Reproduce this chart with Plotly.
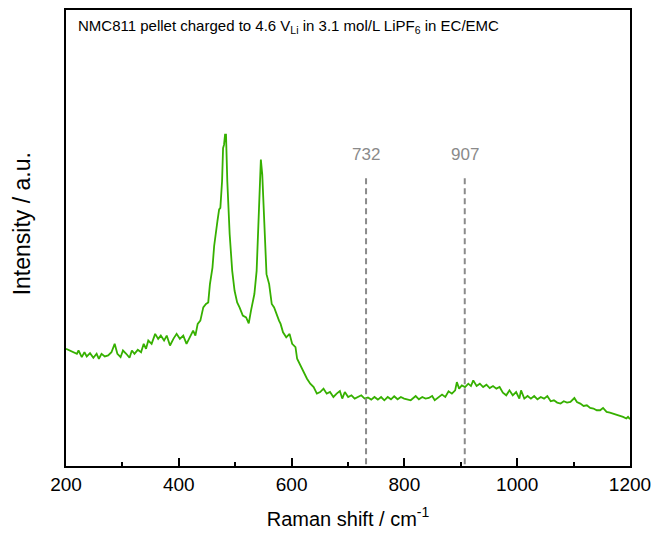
import plotly.graph_objects as go

# Raman shift (cm^-1)
shift = [200, 207.5, 213.5, 219.3, 222.2, 228, 232.7, 236.8, 242.6, 248.5, 254.3, 258.3, 263, 268.8,
         274.8, 280.6, 286.3, 291.1, 296.8, 301, 306.8, 312.6, 316.8, 321.4, 327.3, 333.1, 337.8,
         341.9, 345.9, 351.8, 358.1, 363.4, 368.1, 373.9, 378.6, 384.4, 390.4, 396.1, 401.9, 407.9,
         413.7, 420.7, 425.4, 429.4, 433.5, 438.2, 443.4, 448.2, 452.2, 455.2, 459.7, 462.7, 465.7,
         468.5, 471.5, 473.7, 476.7, 478.5, 480.2, 482, 483.7, 486, 490.2, 494.7, 498.9, 503.5,
         507.7, 513.5, 519.3, 524, 528, 534, 538, 541, 543.8, 545.5, 548, 551.5, 555.5, 560.2,
         564.8, 569, 573, 577.7, 580.5, 584.8, 590.5, 596.4, 601, 606.9, 609.8, 616.6, 621.5,
         627.3, 633.1, 639.1, 644.8, 650.6, 656.6, 662.3, 668.1, 674.1, 679.9, 685.6, 689.8,
         694.4, 700.3, 706.1, 711.9, 717.9, 723.6, 729.4, 735.4, 741.2, 746.9, 752.9, 758.7,
         764.4, 770.4, 776.2, 781.9, 787.9, 793.7, 799.5, 805.4, 811.2, 820, 825.7, 831.7, 837.5,
         843.3, 849.2, 853.8, 860.8, 866.7, 872.5, 878.3, 884.2, 890, 893, 897, 901.8, 907.5,
         913.3, 918, 922.1, 928, 933.8, 939.6, 945.5, 951.3, 957.1, 963.1, 968.8, 974.6, 980.6,
         986.3, 992.1, 998.1, 1003.8, 1006.8, 1012.6, 1018.4, 1024.3, 1030.1, 1035.9, 1041.8,
         1047.6, 1053.4, 1059.4, 1065.1, 1070.9, 1076.9, 1082.6, 1088.4, 1094.4, 1101.4, 1105.9,
         1111.9, 1117.7, 1123.5, 1129.4, 1135.2, 1141, 1147, 1152.2, 1158.5, 1164.4, 1170.2,
         1176, 1182, 1187.7, 1193.5, 1196.5, 1200]

# Intensity (a.u.)
intensity = [117.7, 116, 114.3, 112.7, 116, 109.3, 114.3, 110, 113.3, 108.7, 112.7, 107.7, 112.7, 110,
             111, 114.3, 122.7, 112.7, 109.3, 116, 112.7, 108.7, 116, 112.7, 116.7, 114.3, 122.7,
             117.7, 126, 122.7, 132.7, 127.7, 131, 126, 131, 121, 127.7, 132.7, 127.7, 131,
             122.7, 131, 136, 131, 142.7, 146, 159.3, 162.7, 164.3, 182.7, 199.3, 221, 236,
             246, 257.7, 259.3, 286, 319.3, 322.7, 332.7, 332.7, 286, 232.7, 196, 176, 164.3,
             159.3, 151, 149.3, 143.3, 156, 172.7, 196, 246, 296, 307.7, 292.7, 236, 192.7, 182.7,
             162.7, 159.3, 152.7, 146, 142.7, 134.3, 129.3, 132.7, 122.7, 119.3, 107.7, 99.3, 94.3,
             87.7, 82.7, 79.3, 72.7, 74.3, 77.7, 72.7, 74.3, 69.3, 72.7, 75.3, 67.7,
             74.3, 69.3, 71, 67.7, 69.3, 71, 67.7, 68.7, 66.7, 69.3, 66.7, 69.3,
             66, 69.3, 67, 70, 67, 69.3, 67.7, 66.7, 66, 70.3, 67, 69.3, 67.7,
             68.3, 70.3, 66, 69.3, 71.7, 69.3, 75, 72.7, 76, 84.3, 77.7, 81, 79.3,
             82.7, 80.3, 86, 80.3, 82.7, 79.3, 81.7, 78.3, 80.3, 77.7, 79.3, 73.7, 71,
             76, 71, 74.3, 67.7, 76, 67.7, 70.3, 67.7, 70.3, 67, 69.3,
             67.7, 70.3, 65, 66, 63.7, 62.7, 65, 63.7, 64.3, 68.3, 64.3,
             62.7, 60.3, 61, 58.3, 57.7, 56, 56, 58.3, 54.3, 53.7, 52.7,
             51.7, 51, 49.3, 47.7, 49.3, 47]

marker_positions = [732, 907]
marker_labels = ["732", "907"]
marker_top = 289

x_ticks = [200, 400, 600, 800, 1000, 1200]

fig = go.Figure()
fig.add_trace(go.Scatter(x=shift, y=intensity, mode="lines",
                         line=dict(color="#36b000", width=1.8), showlegend=False,
                         hoverinfo="skip"))

for pos, lab in zip(marker_positions, marker_labels):
    fig.add_shape(type="line", x0=pos, x1=pos, y0=marker_top, y1=0, xref="x", yref="y",
                  line=dict(color="#8a8a8a", width=2, dash="6px,4px"))
    fig.add_annotation(x=pos, y=marker_top, xref="x", yref="y", text=lab, showarrow=False,
                       yanchor="bottom", yshift=12,
                       font=dict(family="Liberation Sans, Arial", size=17, color="#8a8a8a"))

fig.add_annotation(xref="paper", yref="paper", x=0.018, y=0.99, xanchor="left", yanchor="top",
                   text="NMC811 pellet charged to 4.6 V<sub>Li</sub> in 3.1 mol/L LiPF<sub>6</sub> in EC/EMC",
                   showarrow=False, font=dict(family="Liberation Sans, Arial", size=15, color="black"))

fig.add_annotation(xref="paper", yref="paper", x=-0.078, y=0.53, xanchor="center", yanchor="middle",
                   text="Intensity / a.u.", textangle=-90, showarrow=False,
                   font=dict(family="Liberation Sans, Arial", size=23, color="black"))

fig.update_layout(
    width=659, height=535,
    margin=dict(l=66, r=22, t=8, b=69),
    paper_bgcolor="white", plot_bgcolor="white",
    font=dict(family="Liberation Sans, Arial", color="black"),
    xaxis=dict(range=[200, 1200], tickvals=x_ticks, ticks="inside", ticklen=8, tickwidth=1.5,
               tickcolor="black", showline=True, linecolor="black", linewidth=1.5, mirror=True,
               showgrid=False, zeroline=False, tickfont=dict(size=19),
               minor=dict(dtick=100, ticks="inside", ticklen=4, tickwidth=1.5, tickcolor="black"),
               title=dict(text="Raman shift / cm<sup>-1</sup>", font=dict(size=20), standoff=18)),
    yaxis=dict(range=[0, 458], showticklabels=False, ticks="", showline=True, linecolor="black",
               linewidth=1.5, mirror=True, showgrid=False, zeroline=False),
)

fig.write_html("out.html", config={"displayModeBar": False},
               post_script="document.body.style.margin='0px';document.body.style.overflow='hidden';")
